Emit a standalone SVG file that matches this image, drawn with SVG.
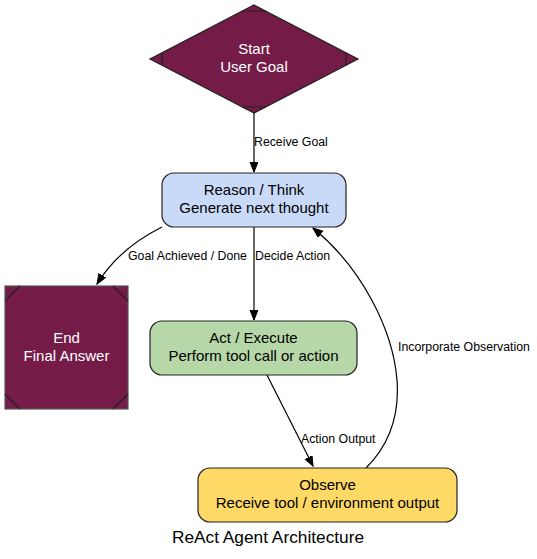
<svg xmlns="http://www.w3.org/2000/svg" width="537" height="559" viewBox="0 0 537 559">
<style>
text{font-family:"Liberation Sans",Arial,sans-serif;text-anchor:middle}
.nt{font-size:15px;fill:#000}
.wt{font-size:15px;fill:#fff}
.el{font-size:12.3px;fill:#000;text-anchor:start}
.edge{fill:none;stroke:#000;stroke-width:1.2}
.node{stroke:#222;stroke-width:1.2}
.mk{fill:none;stroke:#222;stroke-width:1.2}
</style>
<defs>
<marker id="arr" markerUnits="userSpaceOnUse" markerWidth="12" markerHeight="10" refX="10" refY="4" orient="auto" viewBox="0 0 12 10">
<polygon points="0,0 10,4 0,8" fill="#000" stroke="#000" stroke-width="1"/>
</marker>
</defs>
<rect width="537" height="559" fill="#fff"/>
<g id="connectors">
<path class="edge" d="M254,113 L254,172" marker-end="url(#arr)"/>
<text class="el" x="254" y="146">Receive Goal</text>
<path class="edge" d="M162,227 C136,240 113,258 97,284" marker-end="url(#arr)"/>
<text class="el" x="128" y="260">Goal Achieved / Done</text>
<path class="edge" d="M254,227 L254,320" marker-end="url(#arr)"/>
<text class="el" x="255" y="260">Decide Action</text>
<path class="edge" d="M267,375 L313,466" marker-end="url(#arr)"/>
<text class="el" x="301" y="443">Action Output</text>
<path class="edge" d="M366,468 C386,448 400,420 397,380 C393,330 362,268 313,228" marker-end="url(#arr)"/>
<text class="el" x="398" y="351">Incorporate Observation</text>
</g>
<g id="start">
<polygon class="node" points="254,5 358,59 254,113 150,59" fill="#741b47"/>
<path class="mk" d="M242,11 L266,11 M242,107 L266,107 M162,53 L162,65 M346,53 L346,65"/>
<text class="wt" x="254" y="54">Start</text>
<text class="wt" x="254" y="72">User Goal</text>
</g>
<g id="reason">
<rect class="node" x="162" y="173" width="184" height="54" rx="12" fill="#c9daf8"/>
<text class="nt" x="254" y="195">Reason / Think</text>
<text class="nt" x="254" y="213">Generate next thought</text>
</g>
<g id="end">
<rect x="5" y="286" width="123" height="123" fill="#741b47" stroke="#555" stroke-width="1.2"/>
<path class="mk" d="M5,301 L20,286 M113,286 L128,301 M5,394 L20,409 M113,409 L128,394"/>
<text class="wt" x="66.5" y="343">End</text>
<text class="wt" x="66.5" y="361">Final Answer</text>
</g>
<g id="act">
<rect class="node" x="150" y="321" width="207" height="54" rx="12" fill="#b6d7a8"/>
<text class="nt" x="253.5" y="343">Act / Execute</text>
<text class="nt" x="253.5" y="361">Perform tool call or action</text>
</g>
<g id="observe">
<rect class="node" x="198" y="468" width="259" height="54" rx="12" fill="#ffd966"/>
<text class="nt" x="327.5" y="490">Observe</text>
<text class="nt" x="327.5" y="508">Receive tool / environment output</text>
</g>
<text x="268" y="543" style="font-size:17.3px">ReAct Agent Architecture</text>
</svg>
